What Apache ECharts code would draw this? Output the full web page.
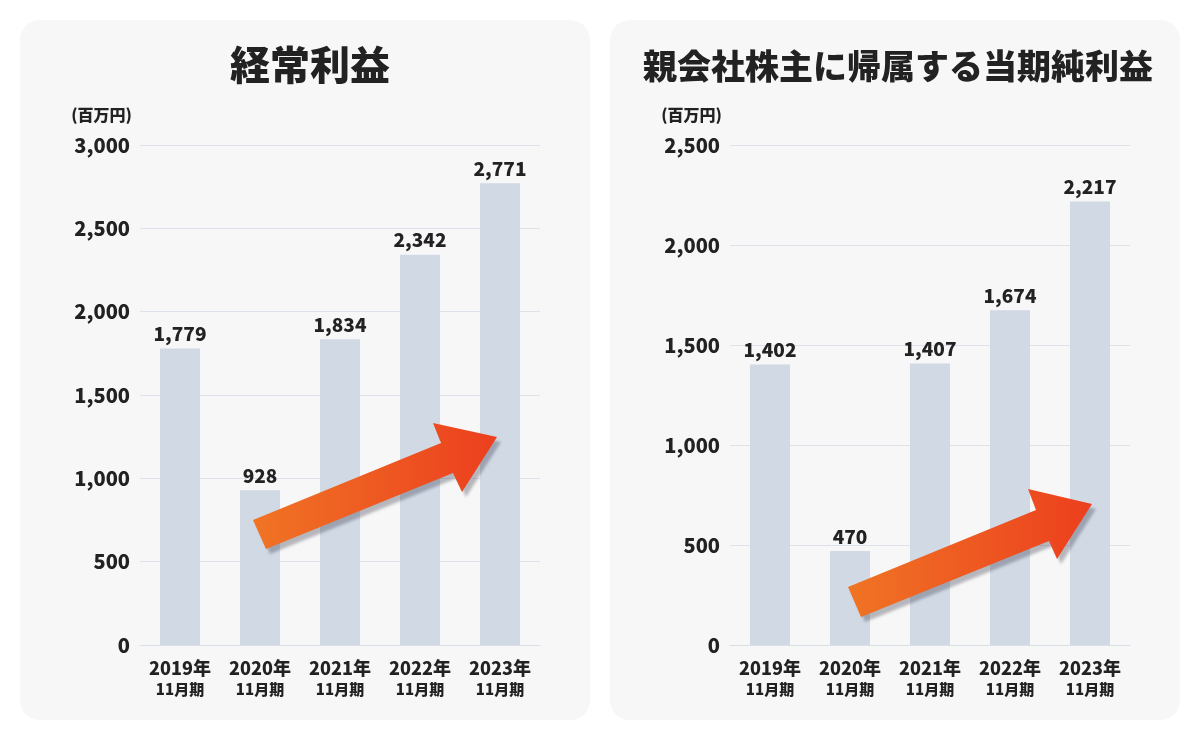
<!DOCTYPE html>
<html><head><meta charset="utf-8">
<script src="https://cdn.jsdelivr.net/npm/echarts@6/dist/echarts.min.js"></script>
<style>html,body{margin:0;padding:0;background:#fff}#c{width:1200px;height:740px}</style>
</head><body><div id="c"></div>
<script>
const categories = ['2019年\n11月期','2020年\n11月期','2021年\n11月期','2022年\n11月期','2023年\n11月期'];
const ordinaryProfit = [1779, 928, 1834, 2342, 2771];
const netProfit = [1402, 470, 1407, 1674, 2217];
const leftTicks = [0, 500, 1000, 1500, 2000, 2500, 3000];
const rightTicks = [0, 500, 1000, 1500, 2000, 2500];
const titles = ['経常利益', '親会社株主に帰属する当期純利益'];
const unitLabel = '(百万円)';

const FONT = '"Noto Sans CJK JP", "Noto Sans", sans-serif';
const W = 900;
const chart = echarts.init(document.getElementById('c'));
const fmt = v => v.toLocaleString('en-US');

function xAxis(gi){
  return {
    type:'category', gridIndex:gi, data:categories,
    axisLine:{show:true, lineStyle:{color:'#D9DFE8', width:1}},
    axisTick:{show:false},
    axisLabel:{
      margin:12, interval:0,
      formatter: v => { const p=v.split('\n'); return '{a|'+p[0]+'}\n{b|'+p[1]+'}'; },
      rich:{
        a:{fontFamily:FONT, fontSize:18, fontWeight:W, color:'#222', lineHeight:22},
        b:{fontFamily:FONT, fontSize:15, fontWeight:W, color:'#222', lineHeight:20}
      }
    }
  };
}
function yAxis(gi, ticks){
  return {
    type:'value', gridIndex:gi, min:ticks[0], max:ticks[ticks.length-1], interval:ticks[1]-ticks[0],
    name:unitLabel, nameLocation:'end', nameGap:22,
    nameTextStyle:{fontFamily:FONT, fontSize:16, fontWeight:W, color:'#222', align:'right', padding:[0,8,0,0]},
    axisLine:{show:false}, axisTick:{show:false},
    splitLine:{lineStyle:{color:'#DDE2EA', width:1}},
    axisLabel:{fontFamily:FONT, fontSize:20, fontWeight:W, color:'#222', margin:10, formatter:fmt}
  };
}
function barSeries(i, data){
  return {
    type:'bar', xAxisIndex:i, yAxisIndex:i, data:data, barWidth:40,
    itemStyle:{color:'#D1D9E5'},
    label:{show:true, position:'top', distance:5, fontFamily:FONT, fontSize:19, fontWeight:W, color:'#222', formatter:p=>fmt(p.value)},
    z:2
  };
}
function arrow(pts){
  return {
    type:'polygon', z:100,
    shape:{points:pts},
    style:{
      fill:new echarts.graphic.LinearGradient(0,0,1,0,[{offset:0,color:'#F07424'},{offset:1,color:'#EC3F1E'}]),
      shadowColor:'rgba(60,60,80,0.35)', shadowBlur:3, shadowOffsetX:4, shadowOffsetY:5
    }
  };
}

chart.setOption({
  backgroundColor:'#ffffff',
  animation:false,
  title:[
    {text:titles[0], left:305, top:40, textAlign:'center', textStyle:{fontFamily:FONT, fontSize:40, fontWeight:W, color:'#222'}},
    {text:titles[1], left:893, top:44, textAlign:'center', textStyle:{fontFamily:FONT, fontSize:34, fontWeight:W, color:'#222'}}
  ],
  grid:[
    {left:140, width:400, top:145, height:500},
    {left:730, width:400, top:145, height:500}
  ],
  xAxis:[xAxis(0), xAxis(1)],
  yAxis:[yAxis(0,leftTicks), yAxis(1,rightTicks)],
  series:[barSeries(0, ordinaryProfit), barSeries(1, netProfit)],
  graphic:[
    {type:'rect', z:-10, shape:{x:20,y:20,width:570,height:700,r:20}, style:{fill:'#F7F7F7'}},
    {type:'rect', z:-10, shape:{x:610,y:20,width:570,height:700,r:20}, style:{fill:'#F7F7F7'}},
    arrow([[266,549],[253,520],[441,443],[433,423],[497,437],[462,492],[453,473]]),
    arrow([[861,617],[848,587],[1036,510],[1028,489],[1092,504],[1057,559],[1049,541]])
  ]
});
</script></body></html>
